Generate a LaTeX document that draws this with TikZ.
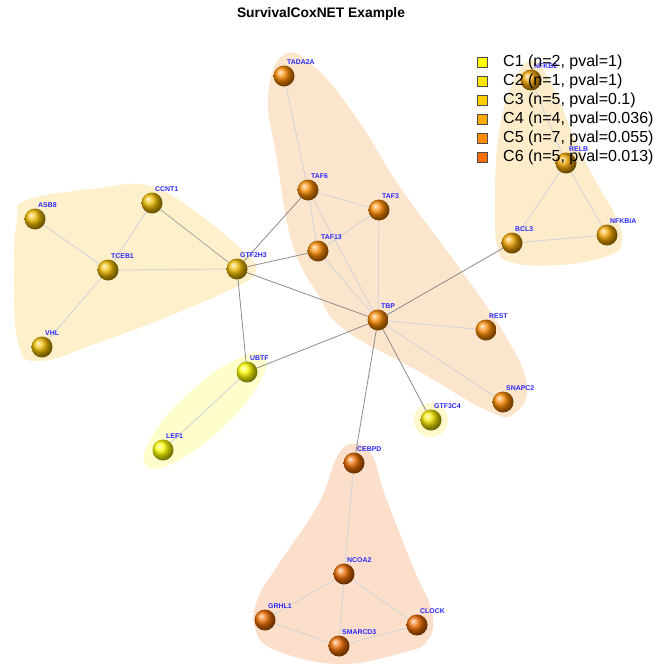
\documentclass[tikz,border=0pt]{standalone}
\usepackage{fontspec}
\newfontfamily\arial{Liberation Sans}
\usetikzlibrary{shadings}
\pgfdeclarelayer{regions}
\pgfdeclarelayer{edges}
\pgfsetlayers{regions,edges,main}
\definecolor{c1ball}{RGB}{255,255,0}
\definecolor{c2ball}{RGB}{245,232,0}
\definecolor{c3ball}{RGB}{240,188,0}
\definecolor{c4ball}{RGB}{242,165,0}
\definecolor{c5ball}{RGB}{250,138,0}
\definecolor{c6ball}{RGB}{236,108,0}
\definecolor{c1reg}{RGB}{254,254,204}
\definecolor{c2reg}{RGB}{254,248,204}
\definecolor{c3reg}{RGB}{253,240,202}
\definecolor{c4reg}{RGB}{253,236,202}
\definecolor{c5reg}{RGB}{252,229,205}
\definecolor{c6reg}{RGB}{251,223,202}
\definecolor{c1leg}{RGB}{255,255,0}
\definecolor{c2leg}{RGB}{255,230,0}
\definecolor{c3leg}{RGB}{255,204,0}
\definecolor{c4leg}{RGB}{255,170,0}
\definecolor{c5leg}{RGB}{255,140,0}
\definecolor{c6leg}{RGB}{255,110,0}
\definecolor{labblue}{RGB}{40,40,255}
\definecolor{interedge}{RGB}{140,140,140}
\definecolor{intraedge}{RGB}{214,214,214}
\tikzset{
  gball/.style={circle, minimum size=21pt, inner sep=0pt, shade, ball color=#1},
  lab/.style={font=\arial\bfseries\fontsize{6.9}{8}\selectfont, text=labblue, inner sep=0pt, anchor=west},
  inter/.style={draw=interedge, line width=0.8pt},
  intra/.style={draw=intraedge, line width=1pt},
  legbox/.style={draw=black!70, line width=0.6pt, minimum size=10pt, inner sep=0pt},
  legtext/.style={font=\arial\fontsize{16}{18}\selectfont, anchor=west, inner sep=0pt}
}
\newcommand{\gene}[4]{%
  \node[gball=#4] (#1) at (#2,#3) {};
  \node[lab] (#1-lab) at (#2+3,#3-13.5) {#1};}
\begin{document}
\begin{tikzpicture}[x=1pt,y=-1pt]
\useasboundingbox (0,0) rectangle (658,664);
% title
\node[font=\arial\bfseries\fontsize{13.8}{16}\selectfont] (title) at (321,14) {SurvivalCoxNET Example};
% genes
\gene{TADA2A}{284}{76}{c5ball}
\gene{TAF6}{308}{190}{c5ball}
\gene{TAF3}{379}{210}{c5ball}
\gene{TAF13}{318}{251}{c5ball}
\gene{TBP}{378}{320}{c5ball}
\gene{REST}{486}{330}{c5ball}
\gene{SNAPC2}{503}{402}{c5ball}
\gene{GTF2H3}{237}{269}{c3ball}
\gene{CCNT1}{152}{203}{c3ball}
\gene{ASB8}{35}{219}{c3ball}
\gene{TCEB1}{108}{270}{c3ball}
\gene{VHL}{42}{347}{c3ball}
\gene{UBTF}{247}{372}{c1ball}
\gene{LEF1}{163}{450}{c1ball}
\gene{GTF3C4}{431}{420}{c2ball}
\gene{NFKB2}{531}{80}{c4ball}
\gene{RELB}{566}{163}{c4ball}
\gene{BCL3}{512}{243}{c4ball}
\gene{NFKBIA}{607}{235}{c4ball}
\gene{CEBPD}{354}{463}{c6ball}
\gene{NCOA2}{344}{574}{c6ball}
\gene{GRHL1}{265}{620}{c6ball}
\gene{SMARCD3}{339}{646}{c6ball}
\gene{CLOCK}{417}{625}{c6ball}
% regions
\begin{pgfonlayer}{regions}
\fill[c5reg] plot[smooth cycle, tension=0.7] coordinates {(285,54) (318,70) (360,123) (400,187) (463,273) (505,335) (527,385) (515,413) (490,412) (420,372) (345,330) (317,293) (292,243) (277,160) (268,95)};
\fill[c3reg] plot[smooth cycle, tension=0.7] coordinates {(27,200) (100,188) (150,186) (200,215) (247,255) (256,270) (240,285) (167,317) (100,342) (40,361) (18,343) (14,270) (17,220)};
\fill[c4reg] plot[smooth cycle, tension=0.7] coordinates {(531,60) (552,85) (575,140) (595,180) (615,215) (622,240) (610,255) (560,265) (510,262) (497,245) (495,200) (498,140) (510,90)};
\fill[c6reg] plot[smooth cycle, tension=0.7] coordinates {(355,444) (372,455) (385,495) (413,567) (432,612) (428,640) (405,652) (340,664) (275,650) (255,628) (258,598) (278,565) (318,505) (338,455)};
\fill[c1reg] plot[smooth cycle, tension=0.8] coordinates {(263.6,356.5) (258.1,385) (221.3,428.6) (175.1,462) (146.4,465.5) (151.9,437) (188.7,393.4) (234.9,360)};
\fill[c2reg] (GTF3C4) circle (17);
\end{pgfonlayer}
% edges
\begin{pgfonlayer}{edges}
\draw[intra] (ASB8) -- (TCEB1);
\draw[intra] (CCNT1) -- (TCEB1);
\draw[intra] (VHL) -- (TCEB1);
\draw[intra] (TCEB1) -- (GTF2H3);
\draw[inter, draw=black!35] (CCNT1) -- (GTF2H3);
\draw[intra] (TADA2A) -- (TAF6);
\draw[intra] (TAF6) -- (TAF3);
\draw[intra] (TAF6) -- (TAF13);
\draw[intra] (TAF6) -- (TBP);
\draw[intra] (TAF3) -- (TAF13);
\draw[intra] (TAF3) -- (TBP);
\draw[intra] (TAF13) -- (TBP);
\draw[intra] (TBP) -- (REST);
\draw[intra] (TBP) -- (SNAPC2);
\draw[intra] (UBTF) -- (LEF1);
\draw[intra] (NFKB2) -- (RELB);
\draw[intra] (RELB) -- (BCL3);
\draw[intra] (RELB) -- (NFKBIA);
\draw[intra] (BCL3) -- (NFKBIA);
\draw[intra] (CEBPD) -- (NCOA2);
\draw[intra] (NCOA2) -- (GRHL1);
\draw[intra] (NCOA2) -- (SMARCD3);
\draw[intra] (NCOA2) -- (CLOCK);
\draw[intra] (GRHL1) -- (SMARCD3);
\draw[intra] (SMARCD3) -- (CLOCK);
\draw[inter] (GTF2H3) -- (TAF6);
\draw[inter] (GTF2H3) -- (TAF13);
\draw[inter] (GTF2H3) -- (TBP);
\draw[inter] (GTF2H3) -- (UBTF);
\draw[inter] (UBTF) -- (TBP);
\draw[inter] (TBP) -- (BCL3);
\draw[inter] (TBP) -- (CEBPD);
\draw[inter] (TBP) -- (GTF3C4);
\end{pgfonlayer}
% legend
\foreach \i/\c/\t [count=\k from 0] in {1/c1leg/{C1 (n=2, pval=1)}, 2/c2leg/{C2 (n=1, pval=1)}, 3/c3leg/{C3 (n=5, pval=0.1)}, 4/c4leg/{C4 (n=4, pval=0.036)}, 5/c5leg/{C5 (n=7, pval=0.055)}, 6/c6leg/{C6 (n=5, pval=0.013)}} {
  \node[legbox, fill=\c] (leg\i) at (482.5, 62+19*\k) {};
  \node[legtext] (legt\i) at (503, 62+19*\k) {\t};
}
\end{tikzpicture}
\end{document}
